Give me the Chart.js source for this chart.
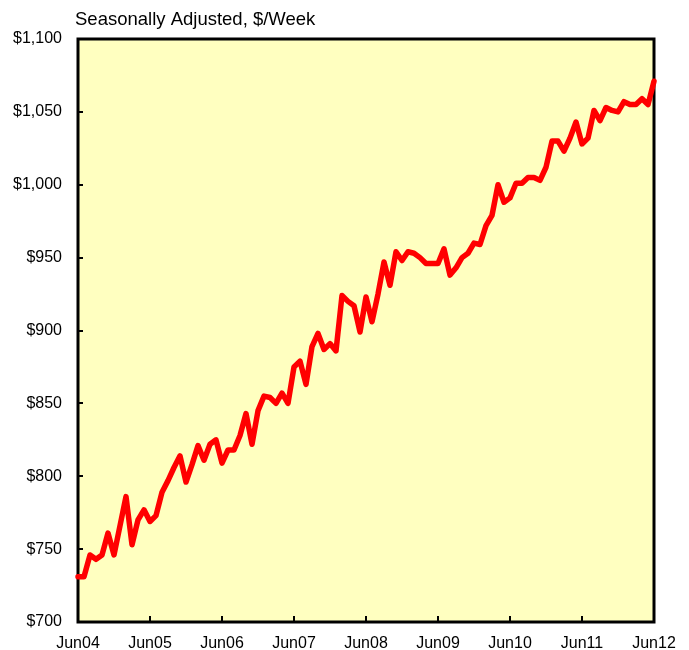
<!DOCTYPE html>
<html>
<head>
<meta charset="utf-8">
<script src="https://cdn.jsdelivr.net/npm/chart.js@4/dist/chart.umd.min.js"></script>
<style>
  html, body { margin: 0; padding: 0; background: #ffffff; }
  #wrap { width: 689px; height: 650px; position: relative; }
</style>
</head>
<body>
<div id="wrap"><canvas id="c"></canvas></div>
<script>
// ---- data ----
const titleText = 'Seasonally Adjusted, $/Week';
const yearTickLabels = ['Jun04','Jun05','Jun06','Jun07','Jun08','Jun09','Jun10','Jun11','Jun12'];
const monthNames = ['Jun','Jul','Aug','Sep','Oct','Nov','Dec','Jan','Feb','Mar','Apr','May'];
const weeklyEarnings = [
  731, 731, 746, 743, 746, 761, 746, 766, 786, 753, 770, 777,
  769, 773, 789, 797, 806, 814, 796, 808, 821, 811, 822, 825,
  809, 818, 818, 828, 843, 822, 845, 855, 854, 850, 857, 850,
  875, 879, 863, 889, 898, 887, 891, 886, 924, 920, 917, 899,
  923, 906, 925, 947, 931, 954, 948, 954, 953, 950, 946, 946,
  946, 956, 938, 943, 950, 953, 960, 959, 972, 979, 1000, 988,
  991, 1001, 1001, 1005, 1005, 1003, 1012, 1030, 1030, 1023, 1032, 1043,
  1028, 1032, 1051, 1044, 1053, 1051, 1050, 1057, 1055, 1055, 1059, 1055,
  1071
];
// monthly category labels Jun04 .. Jun12
const months = weeklyEarnings.map((_, i) => {
  const m = monthNames[i % 12];
  const yr = 4 + Math.floor((i + 5) / 12);
  return m + String(yr).padStart(2, '0');
});

const FONT = '"Liberation Sans", Arial, sans-serif';

const framePlugin = {
  id: 'frame',
  beforeDatasetsDraw(chart) {
    const { ctx, chartArea: a, scales } = chart;
    ctx.save();
    ctx.strokeStyle = '#000';
    ctx.lineWidth = 2;
    scales.y.ticks.forEach(t => {
      const py = Math.round(scales.y.getPixelForValue(t.value));
      ctx.beginPath();
      ctx.moveTo(a.left, py);
      ctx.lineTo(a.left + 5, py);
      ctx.stroke();
    });
    for (let i = 0; i < months.length; i += 12) {
      const px = Math.round(scales.x.getPixelForValue(i));
      ctx.beginPath();
      ctx.moveTo(px, a.bottom);
      ctx.lineTo(px, a.bottom - 6);
      ctx.stroke();
    }
    ctx.lineWidth = 3;
    ctx.strokeRect(a.left, a.top, a.right - a.left, a.bottom - a.top);
    ctx.restore();
  },
  beforeDraw(chart) {
    const { ctx, chartArea: a } = chart;
    ctx.save();
    ctx.fillStyle = '#FFFFC0';
    ctx.fillRect(a.left, a.top, a.right - a.left, a.bottom - a.top);
    ctx.restore();
  },
  afterDraw(chart) {
    const { ctx, chartArea: a } = chart;
    ctx.save();
    ctx.fillStyle = '#000';
    ctx.font = '18.5px ' + FONT;
    ctx.textAlign = 'left';
    ctx.textBaseline = 'alphabetic';
    ctx.fillText(titleText, a.left - 3, 25);
    ctx.restore();
  }
};

new Chart(document.getElementById('c'), {
  type: 'line',
  data: {
    labels: months,
    datasets: [{
      data: weeklyEarnings,
      borderColor: '#FF0000',
      borderWidth: 5.5,
      borderJoinStyle: 'round',
      borderCapStyle: 'round',
      pointRadius: 0,
      tension: 0,
      fill: false,
      clip: 4
    }]
  },
  options: {
    responsive: true,
    maintainAspectRatio: false,
    animation: false,
    devicePixelRatio: 1,
    layout: { padding: { top: 39, right: 35, left: 0, bottom: 0 } },
    plugins: { legend: { display: false }, tooltip: { enabled: false }, title: { display: false } },
    scales: {
      x: {
        type: 'category',
        offset: false,
        grid: { display: false },
        border: { display: false },
        ticks: {
          autoSkip: false,
          maxRotation: 0,
          minRotation: 0,
          padding: 4,
          color: '#000',
          font: { family: FONT, size: 16 },
          callback: (v, i) => (i % 12 === 0 ? yearTickLabels[i / 12] : null)
        },
        afterFit(s) { s.height = 28; }
      },
      y: {
        min: 700,
        max: 1100,
        grid: { display: false },
        border: { display: false },
        ticks: {
          stepSize: 50,
          padding: 8,
          color: '#000',
          font: { family: FONT, size: 16 },
          callback: v => '$' + Number(v).toLocaleString('en-US')
        },
        afterFit(s) { s.width = 78; }
      }
    }
  },
  plugins: [framePlugin]
});
</script>
</body>
</html>
